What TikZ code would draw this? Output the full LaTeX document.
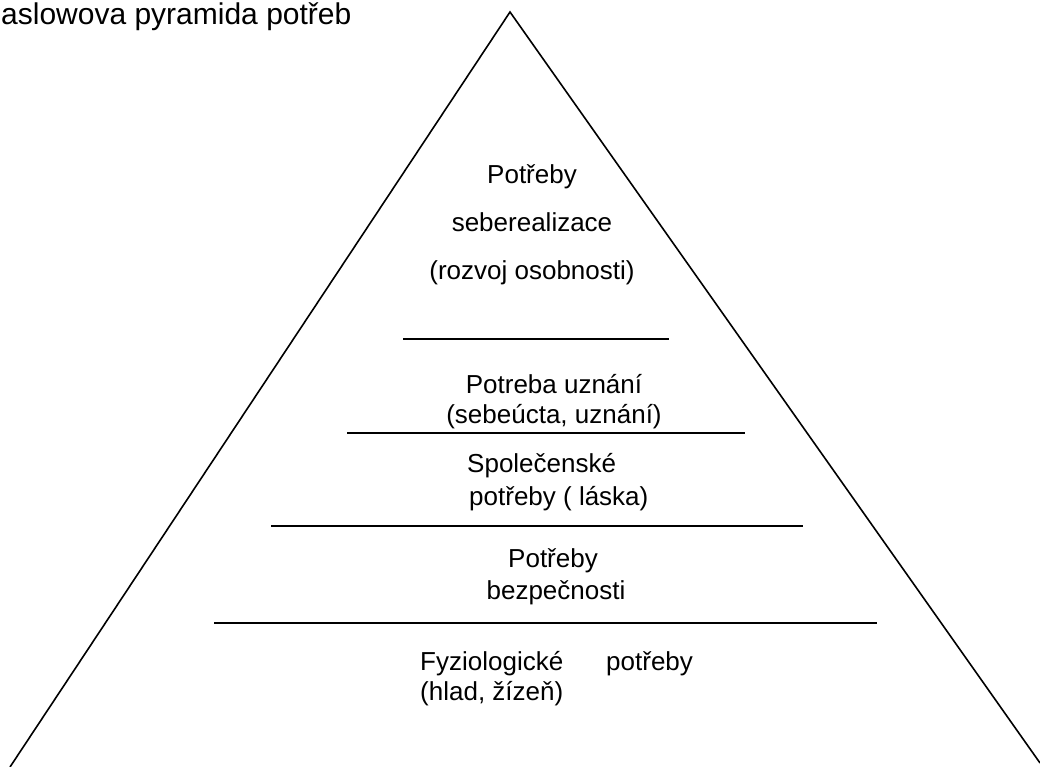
\documentclass[tikz,border=0pt]{standalone}
\usepackage{fontspec}
\setmainfont{Liberation Sans}
\begin{document}
\begin{tikzpicture}[x=1pt,y=-1pt,
  txt/.style={font=\fontsize{26}{30}\selectfont, inner sep=0pt, anchor=base},
  tri/.style={line width=1.6pt, line join=miter},
  sep/.style={line width=2.2pt}]
\useasboundingbox (0,0) rectangle (1040,767);
\clip (0,0) rectangle (1040,767);
% pyramid
\coordinate (apex) at (510,12);
\coordinate (bl) at (10,767);
\coordinate (br) at (1040,763);
\draw[tri] (bl) -- (apex) -- (br);
% title
\node[txt, font=\fontsize{30}{36}\selectfont, anchor=base west] (title) at (1,25) {aslowova pyramida potřeb};
% level 5
\node[txt] (s1) at (532,184) {Potřeby};
\node[txt] (s2) at (532,231) {seberealizace};
\node[txt] (s3) at (532,279) {(rozvoj osobnosti)};
\coordinate (l1a) at (403,339); \coordinate (l1b) at (669,339);
\draw[sep] (l1a) -- (l1b);
% level 4
\node[txt] (u1) at (554,393) {Potreba uznání};
\node[txt] (u2) at (554,423) {(sebeúcta, uznání)};
\coordinate (l2a) at (347,433); \coordinate (l2b) at (745,433);
\draw[sep] (l2a) -- (l2b);
% level 3
\node[txt, anchor=base west] (p1) at (467,472) {Společenské};
\node[txt, anchor=base west] (p2) at (469,505) {potřeby ( láska)};
\coordinate (l3a) at (271,526); \coordinate (l3b) at (803,526);
\draw[sep] (l3a) -- (l3b);
% level 2
\node[txt] (b1) at (553,567) {Potřeby};
\node[txt] (b2) at (556,599) {bezpečnosti};
\coordinate (l4a) at (214,623); \coordinate (l4b) at (877,623);
\draw[sep] (l4a) -- (l4b);
% level 1
\node[txt, anchor=base west] (f1) at (420,670) {Fyziologické\hspace{43pt}potřeby};
\node[txt, anchor=base west] (f2) at (420,700) {(hlad, žízeň)};
\end{tikzpicture}
\end{document}
